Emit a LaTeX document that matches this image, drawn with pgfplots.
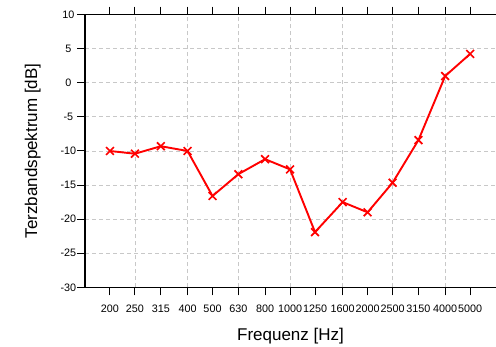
\documentclass[border=0pt]{standalone}
\usepackage{pgfplots}
\pgfplotsset{compat=1.18}
\usepackage{fontspec}
\setmainfont{Liberation Sans}

\definecolor{gridgray}{RGB}{200,200,200}

\begin{document}
\begin{tikzpicture}[x=1pt,y=1pt]
\path[use as bounding box] (0,0) rectangle (496,347);
\begin{axis}[
  at={(85pt,59.7pt)}, anchor=south west,
  scale only axis,
  width=411pt, height=272.6pt,
  xmode=log, log basis x=10,
  xmin=160, xmax=6300,
  ymin=-30, ymax=10,
  xtick={200,250,315,400,500,630,800,1000,1250,1600,2000,2500,3150,4000,5000},
  xticklabels={200,250,315,400,500,630,800,1000,1250,1600,2000,2500,3150,4000,5000},
  minor xtick={250,400,630,1000,1600,2500,4000},
  ytick={-30,-25,-20,-15,-10,-5,0,5,10},
  yticklabels={-30,-25,-20,-15,-10,-5,0,5,10},
  xminorgrids=true, ymajorgrids=true,
  grid style={gridgray, dashed, line width=0.9pt, dash pattern=on 4pt off 3pt},
  minor tick length=0pt,
  major tick length=8pt,
  tick align=outside,
  xtick pos=both, ytick pos=left,
  tick style={black, line width=1pt},
  axis line style={draw=none},
  ticklabel style={font=\fontsize{10.8}{12}\selectfont},
  xticklabel style={yshift=-8pt, inner sep=1pt},
  yticklabel style={text width=22pt, align=center, inner sep=0pt, xshift=2.5pt},
  xlabel={Frequenz [Hz]},
  ylabel={Terzbandspektrum [dB]},
  label style={font=\fontsize{17}{20}\selectfont},
  xlabel style={at={(axis description cs:0.5,-0.1805)}, anchor=center},
  ylabel style={at={(axis description cs:-0.127,0.5)}, anchor=center},
  clip=false,
]
\addplot[red, line width=1.9pt, mark=x, mark size=5.5pt,
  mark options={line width=1.7pt}] table {
  f     L
  200   -10.0
  250   -10.4
  315   -9.3
  400   -10.0
  500   -16.6
  630   -13.4
  800   -11.2
  1000  -12.7
  1250  -21.9
  1600  -17.5
  2000  -19.0
  2500  -14.65
  3150  -8.4
  4000  1.0
  5000  4.25
};
% box: left, bottom and top lines, no right edge
\draw[black, line width=1.2pt] (rel axis cs:1,1) -- (rel axis cs:0,1)
  -- (rel axis cs:0,0) -- (rel axis cs:1,0);
\end{axis}
\end{tikzpicture}
\end{document}
